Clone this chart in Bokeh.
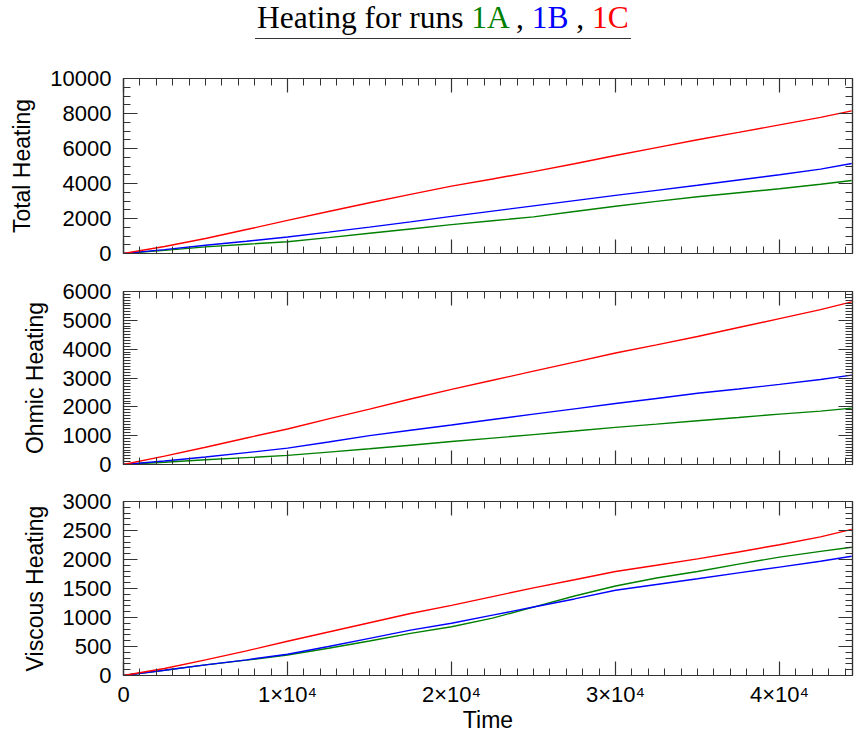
from bokeh.plotting import figure
from bokeh.models import Range1d, LinearAxis, SingleIntervalTicker, Div, CustomJSTickFormatter
from bokeh.layouts import column
from bokeh.embed import file_html
from bokeh.resources import INLINE

# ---------------- data ----------------
time = [0, 2500, 5000, 7500, 10000, 12500, 15000, 17500, 20000, 22500,
        25000, 27500, 30000, 32500, 35000, 37500, 40000, 42500, 44400]

total_1A = [0, 180, 380, 530, 670, 910, 1160, 1400, 1650, 1870,
            2095, 2400, 2700, 2980, 3240, 3470, 3700, 3960, 4170]
total_1B = [0, 220, 470, 700, 940, 1220, 1510, 1810, 2120, 2420,
            2720, 3020, 3320, 3610, 3900, 4200, 4500, 4820, 5140]
total_1C = [0, 400, 860, 1370, 1890, 2400, 2900, 3380, 3850, 4260,
            4680, 5130, 5600, 6050, 6500, 6920, 7350, 7780, 8150]

ohmic_1A = [0, 80, 166, 240, 315, 430, 544, 670, 797, 915,
            1037, 1160, 1289, 1400, 1519, 1630, 1748, 1850, 1954]
ohmic_1B = [0, 120, 258, 410, 567, 780, 1003, 1190, 1370, 1560,
            1748, 1930, 2115, 2290, 2470, 2620, 2779, 2950, 3100]
ohmic_1C = [0, 290, 600, 920, 1232, 1580, 1920, 2270, 2607, 2920,
            3238, 3550, 3868, 4150, 4441, 4750, 5060, 5370, 5640]

visc_1A = [0, 90, 183, 265, 354, 470, 594, 726, 840, 990,
           1180, 1370, 1543, 1680, 1794, 1920, 2040, 2140, 2211]
visc_1B = [0, 90, 183, 270, 366, 500, 640, 783, 900, 1040,
           1180, 1320, 1469, 1570, 1669, 1770, 1869, 1970, 2057]
visc_1C = [0, 120, 269, 425, 590, 750, 910, 1069, 1210, 1360,
           1510, 1650, 1794, 1900, 2011, 2130, 2255, 2390, 2520]

x_max = 44450
x_tick_values = [0, 10000, 20000, 30000, 40000]
x_tick_labels = ["0", "1\u00d710\u2074", "2\u00d710\u2074", "3\u00d710\u2074", "4\u00d710\u2074"]

runs = ["1A", "1B", "1C"]
run_colors = ["#008000", "#0000ff", "#ff0000"]

panels = [
    ("Total Heating", 10000, 2000, 4, [total_1A, total_1B, total_1C]),
    ("Ohmic Heating", 6000, 1000, 10, [ohmic_1A, ohmic_1B, ohmic_1C]),
    ("Viscous Heating", 3000, 500, 5, [visc_1A, visc_1B, visc_1C]),
]

AX = "#333333"
SANS = "Liberation Sans"


def style_axis(ax, ticker, show_labels):
    ax.ticker = ticker
    ax.major_tick_in = 14
    ax.major_tick_out = 0
    ax.minor_tick_in = 7
    ax.minor_tick_out = 0
    ax.axis_line_color = AX
    ax.major_tick_line_color = AX
    ax.minor_tick_line_color = AX
    ax.axis_line_width = 1.2
    ax.major_tick_line_width = 1.2
    ax.minor_tick_line_width = 1
    ax.major_label_text_font = SANS
    ax.major_label_text_color = "black"
    ax.axis_label_text_font = SANS
    ax.axis_label_text_font_style = "normal"
    ax.axis_label_text_color = "black"
    if show_labels:
        ax.major_label_text_font_size = "22px"
        ax.axis_label_text_font_size = "23px"
    else:
        ax.formatter = CustomJSTickFormatter(code="return ''")
        ax.major_label_text_font_size = "0px"
        ax.major_label_standoff = 0
        ax.axis_label = None


title_html = (
    '<div style="margin-left:255px; margin-top:0px; display:inline-block; '
    'font-family:\'Liberation Serif\'; font-size:31.5px; line-height:36px; color:black; '
    'border-bottom:1.5px solid #333; padding:0 2px 2px 2px; white-space:nowrap">'
    'Heating for runs '
    f'<span style="color:{run_colors[0]}">{runs[0]}</span> , '
    f'<span style="color:{run_colors[1]}">{runs[1]}</span> , '
    f'<span style="color:{run_colors[2]}">{runs[2]}</span></div>'
)
title_div = Div(text=title_html, width=854, height=45, margin=(0, 0, 0, 0))

figs = [title_div]
borders = [(33, 18), (20, 18), (19, 55)]
heights = [175, 173, 174]
for i, (label, ymax, major, nminor, series) in enumerate(panels):
    last = i == len(panels) - 1
    p = figure(frame_width=729, frame_height=heights[i],
               min_border_left=123, min_border_right=2,
               min_border_top=borders[i][0], min_border_bottom=borders[i][1],
               x_range=Range1d(0, x_max), y_range=Range1d(0, ymax),
               output_backend="svg", toolbar_location=None,
               background_fill_color="white", border_fill_color="white")
    p.xgrid.visible = False
    p.ygrid.visible = False
    p.outline_line_color = AX
    p.outline_line_width = 1.2

    # bottom axis
    style_axis(p.xaxis[0], SingleIntervalTicker(interval=10000, num_minor_ticks=10), last)
    if last:
        p.xaxis[0].major_label_overrides = dict(zip(x_tick_values, x_tick_labels))
        p.xaxis[0].axis_label = "Time"
        p.xaxis[0].major_label_standoff = 6
        p.xaxis[0].axis_label_standoff = -3
    # left axis
    style_axis(p.yaxis[0], SingleIntervalTicker(interval=major, num_minor_ticks=nminor), True)
    p.yaxis[0].axis_label = label
    p.yaxis[0].major_label_standoff = 12
    p.yaxis[0].axis_label_standoff = 12
    # top and right axes (ticks only)
    top = LinearAxis()
    style_axis(top, SingleIntervalTicker(interval=10000, num_minor_ticks=10), False)
    p.add_layout(top, "above")
    right = LinearAxis()
    style_axis(right, SingleIntervalTicker(interval=major, num_minor_ticks=nminor), False)
    p.add_layout(right, "right")

    for ys, c in zip(series, run_colors):
        p.line(time, ys, line_color=c, line_width=1.4)
    figs.append(p)

layout = column(*figs, spacing=0)
open("out.html", "w").write(file_html(layout, INLINE))
